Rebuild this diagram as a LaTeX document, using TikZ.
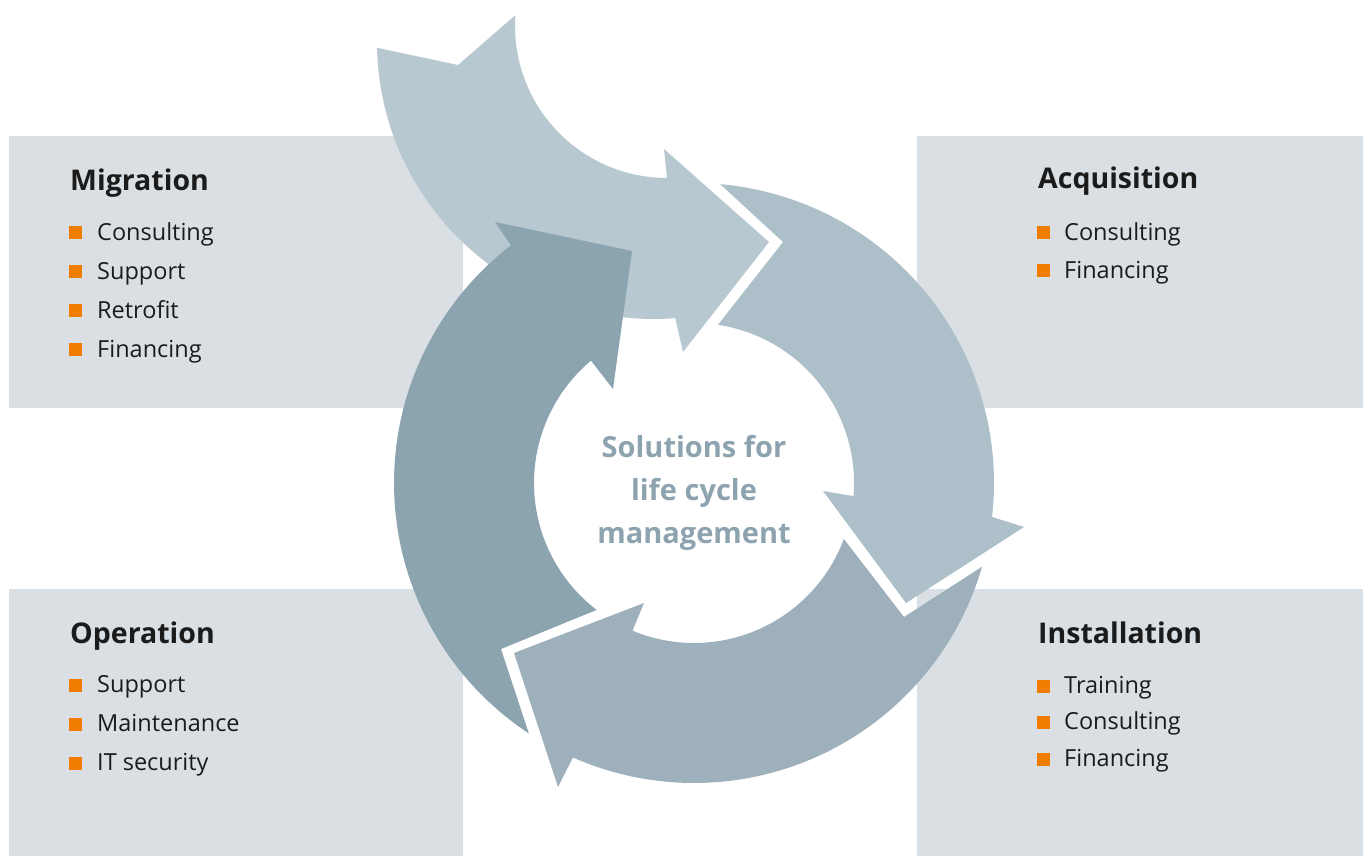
\documentclass[tikz,border=0pt]{standalone}
\usepackage{fontspec}
\setmainfont{Open Sans}
\usetikzlibrary{calc}
\definecolor{boxgray}{HTML}{DADFE3}
\definecolor{arrowin}{HTML}{B7C8D1}
\definecolor{arrowacq}{HTML}{ADBFC9}
\definecolor{arrowinst}{HTML}{9EB0BB}
\definecolor{arrowop}{HTML}{8CA4B0}
\definecolor{midtext}{HTML}{8DA3AF}
\definecolor{dotorange}{HTML}{F07D00}
\definecolor{ink}{HTML}{1B1B1B}

\begin{document}
\begin{tikzpicture}[x=1pt,y=-1pt,
  box/.style={fill=boxgray},
  head/.style={anchor=base west,inner sep=0pt,text=ink,font=\fontsize{28.5}{34}\selectfont\bfseries},
  item/.style={anchor=base west,inner sep=0pt,text=ink,font=\fontsize{23.5}{28}\selectfont},
  dot/.style={anchor=south west,inner sep=0pt,minimum size=13pt,fill=dotorange},
  mid/.style={anchor=base,inner sep=0pt,text=midtext,font=\fontsize{29}{34}\selectfont\bfseries}]

\useasboundingbox (0,0) rectangle (1363,856);

% the four boxes
\fill[box] (9,136) rectangle (463,408);
\fill[box] (917,136) rectangle (1363,408);
\fill[box] (9,589) rectangle (463,856);
\fill[box] (917,589) rectangle (1363,856);

\coordinate (c) at (694,483);
\coordinate (c0) at (667,26);
\coordinate (c1) at (654,42);

% incoming arrow
\fill[arrowin] ($(c0)+(184.1:152)$) arc[start angle=184.1,end angle=90,radius=152]
  -- (664,149) -- (769,242) -- (683,352)
  -- ($(c1)+(85.6:277)$) arc[start angle=85.6,end angle=178.8,radius=277]
  -- (458,65) -- cycle;

% ring
\fill[arrowacq] ($(c)+(-85:300)$) arc[start angle=-85,end angle=6.5,radius=300]
  -- (1024,527) -- (906,603) -- (823,491)
  -- ($(c)+(4.7:160)$) arc[start angle=4.7,end angle=-81.4,radius=160]
  -- (783,242) -- cycle;
\fill[arrowinst] ($(c)+(16.2:300)$) arc[start angle=16.2,end angle=113.8,radius=300]
  -- (558,787) -- (514,653) -- (644,603)
  -- ($(c)+(112.6:160)$) arc[start angle=112.6,end angle=20.5,radius=160]
  -- (904,617) -- cycle;
\fill[arrowop] ($(c)+(123.4:300)$) arc[start angle=123.4,end angle=232.4,radius=300]
  -- (495,222) -- (632,251) -- (613,389)
  -- ($(c)+(229.9:160)$) arc[start angle=229.9,end angle=127.5,radius=160]
  -- (501,649) -- cycle;

\node[mid] (sol1) at (694,457) {Solutions for};
\node[mid] (sol2) at (694,500) {life cycle};
\node[mid] (sol3) at (694,543) {management};

% Migration
\node[head] (mig) at (70,190) {Migration};
\node[dot] (dm1) at (69,239) {};
\node[item] (m1) at (97,240) {Consulting};
\node[dot] (dm2) at (69,278) {};
\node[item] (m2) at (97,279) {Support};
\node[dot] (dm3) at (69,317) {};
\node[item] (m3) at (97,318) {Retrofit};
\node[dot] (dm4) at (69,356) {};
\node[item] (m4) at (97,357) {Financing};

% Acquisition
\node[head] (acq) at (1038,189) {Acquisition};
\node[dot] (da1) at (1037,239) {};
\node[item] (a1) at (1064,240) {Consulting};
\node[dot] (da2) at (1037,277) {};
\node[item] (a2) at (1064,278) {Financing};

% Operation
\node[head] (op) at (70,643) {Operation};
\node[dot] (do1) at (69,692) {};
\node[item] (o1) at (97,692) {Support};
\node[dot] (do2) at (69,731) {};
\node[item] (o2) at (97,731) {Maintenance};
\node[dot] (do3) at (69,770) {};
\node[item] (o3) at (97,770) {IT security};

% Installation
\node[head] (inst) at (1038,643) {Installation};
\node[dot] (di1) at (1037,693) {};
\node[item] (i1) at (1064,693) {Training};
\node[dot] (di2) at (1037,729) {};
\node[item] (i2) at (1064,729) {Consulting};
\node[dot] (di3) at (1037,766) {};
\node[item] (i3) at (1064,766) {Financing};

\end{tikzpicture}
\end{document}
